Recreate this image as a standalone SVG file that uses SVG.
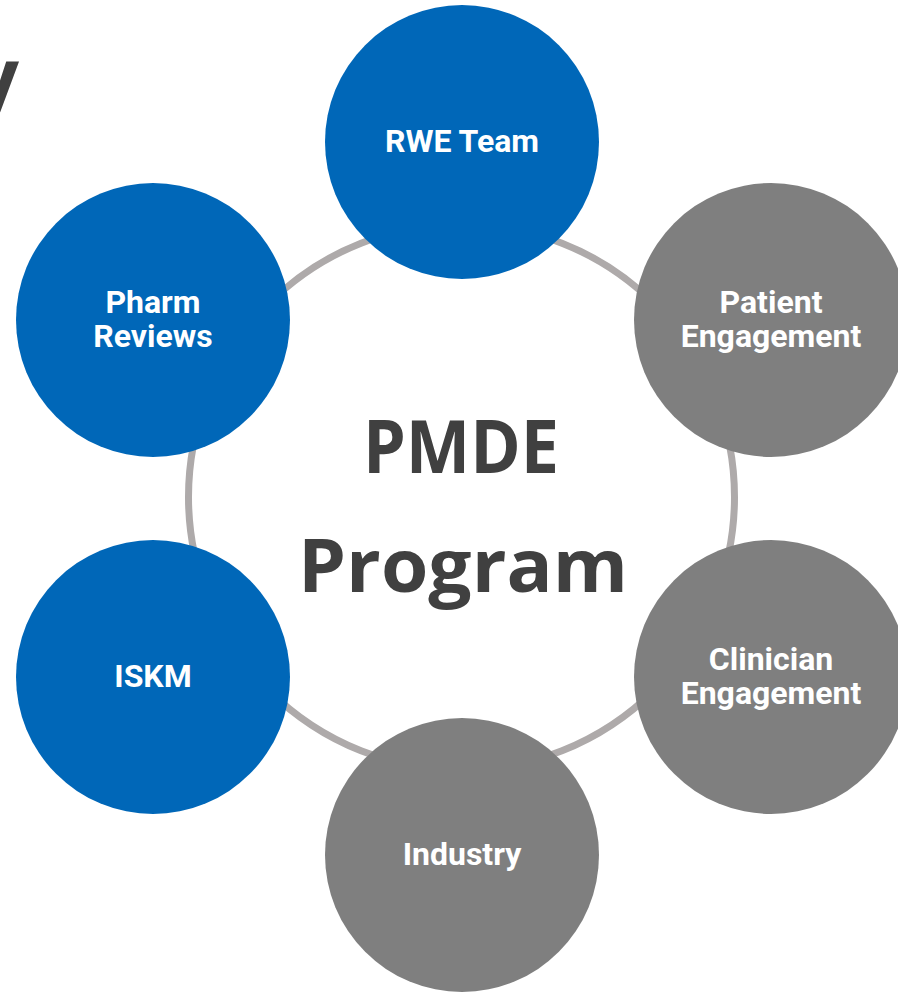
<svg xmlns="http://www.w3.org/2000/svg" width="898" height="992" viewBox="0 0 898 992">
  <style>
    .ring { fill: none; stroke: #AEAAAA; stroke-width: 7; }
    .blue { fill: #0067B8; }
    .gray { fill: #7F7F7F; }
    .lbl { fill: #FFFFFF; font-family: Roboto, "Liberation Sans", sans-serif; font-weight: 700; font-size: 32px; text-anchor: middle; }
    .title { fill: #404040; font-family: "Open Sans", Lato, "Liberation Sans", sans-serif; font-weight: 700; font-size: 74px; text-anchor: middle; }
  </style>
  <rect width="898" height="992" fill="#FFFFFF"/>

  <!-- heading letter running off the top-left edge -->
  <text class="title" x="19" y="106" style="text-anchor:end;font-size:80px">y</text>

  <!-- ring linking the six groups -->
  <g id="connectors">
    <circle class="ring" cx="461.5" cy="497" r="273"/>
  </g>

  <g id="center">
    <text class="title" x="461" y="473" textLength="196" lengthAdjust="spacingAndGlyphs">PMDE</text>
    <text class="title" x="463" y="592" textLength="330" lengthAdjust="spacingAndGlyphs">Program</text>
  </g>

  <g id="rwe-team">
    <circle class="blue" cx="462" cy="142" r="137"/>
    <text class="lbl" x="462" y="152">RWE Team</text>
  </g>

  <g id="patient-engagement">
    <circle class="gray" cx="771" cy="320" r="137"/>
    <text class="lbl" x="771" y="313">Patient</text>
    <text class="lbl" x="771" y="347">Engagement</text>
  </g>

  <g id="clinician-engagement">
    <circle class="gray" cx="771" cy="677" r="137"/>
    <text class="lbl" x="771" y="670">Clinician</text>
    <text class="lbl" x="771" y="704">Engagement</text>
  </g>

  <g id="industry">
    <circle class="gray" cx="462" cy="855" r="137"/>
    <text class="lbl" x="462" y="865">Industry</text>
  </g>

  <g id="iskm">
    <circle class="blue" cx="153" cy="677" r="137"/>
    <text class="lbl" x="153" y="687">ISKM</text>
  </g>

  <g id="pharm-reviews">
    <circle class="blue" cx="153" cy="320" r="137"/>
    <text class="lbl" x="153" y="313">Pharm</text>
    <text class="lbl" x="153" y="347">Reviews</text>
  </g>
</svg>
